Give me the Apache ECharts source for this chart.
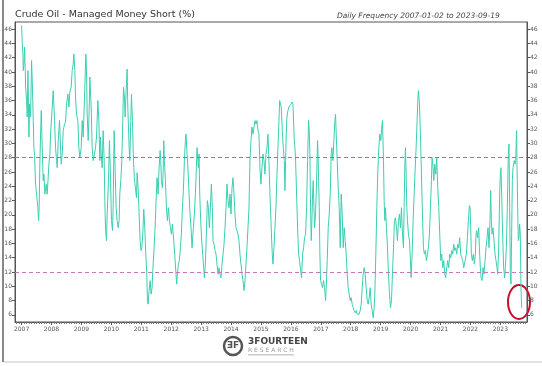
<!DOCTYPE html>
<html><head><meta charset="utf-8">
<script src="https://cdn.jsdelivr.net/npm/echarts@6/dist/echarts.min.js"></script>
<style>html,body{margin:0;padding:0;background:#fff;}#c{width:542px;height:366px;}</style>
</head><body><div id="c"></div>
<script>
// ---- data (decimal year, managed money short %) ----
const short2007_2009 = [[2007.000,46.5],[2007.023,44.0],[2007.045,42.5],[2007.056,40.2],[2007.078,41.0],[2007.100,43.5],[2007.123,40.2],[2007.134,37.9],[2007.167,36.0],[2007.189,33.7],[2007.212,40.2],[2007.245,30.9],[2007.267,35.5],[2007.301,33.7],[2007.334,41.6],[2007.356,38.8],[2007.390,33.2],[2007.412,29.4],[2007.434,28.3],[2007.467,24.3],[2007.501,22.9],[2007.545,21.0],[2007.568,19.2],[2007.590,21.5],[2007.612,27.6],[2007.657,34.6],[2007.690,29.4],[2007.723,24.8],[2007.746,25.7],[2007.779,22.9],[2007.824,24.3],[2007.857,22.9],[2007.913,27.1],[2007.946,28.5],[2007.968,31.3],
[2008.024,35.1],[2008.057,37.4],[2008.102,33.2],[2008.135,29.4],[2008.168,27.6],[2008.191,26.6],[2008.224,30.4],[2008.269,33.2],[2008.302,29.4],[2008.324,27.1],[2008.358,28.5],[2008.391,31.8],[2008.435,32.7],[2008.469,33.0],[2008.502,35.5],[2008.547,36.9],[2008.580,35.1],[2008.613,37.2],[2008.658,37.9],[2008.691,40.2],[2008.725,41.1],[2008.747,42.5],[2008.780,40.2],[2008.803,36.5],[2008.836,34.1],[2008.881,33.2],[2008.914,29.4],[2008.947,28.0],[2008.992,29.4],
[2009.025,33.2],[2009.059,30.9],[2009.103,36.5],[2009.148,42.5],[2009.170,40.2],[2009.192,34.1],[2009.226,30.4],[2009.259,34.6],[2009.281,39.3],[2009.326,35.1],[2009.359,29.4],[2009.393,27.6],[2009.437,28.5],[2009.470,29.4],[2009.504,30.9],[2009.548,36.0],[2009.582,33.2],[2009.615,27.6],[2009.637,30.9],[2009.660,28.5],[2009.693,26.6],[2009.726,31.8],[2009.760,27.6],[2009.782,22.0]];

const short2010_2012 = [[2009.804,18.2],[2009.837,16.4],[2009.860,20.1],[2009.904,24.8],[2009.937,30.4],[2009.971,25.2],[2010.004,19.2],[2010.038,17.8],[2010.060,21.0],[2010.093,31.8],[2010.127,26.2],[2010.160,21.0],[2010.193,19.2],[2010.227,18.2],[2010.260,19.2],[2010.282,22.9],[2010.316,24.8],[2010.349,27.6],[2010.382,33.2],[2010.405,37.9],[2010.438,36.5],[2010.460,33.7],[2010.494,37.4],[2010.527,40.4],[2010.549,35.1],[2010.572,32.3],[2010.594,29.4],[2010.616,27.6],[2010.638,31.3],[2010.672,36.9],[2010.705,33.2],[2010.739,27.6],[2010.772,24.8],[2010.805,23.8],[2010.839,22.4],[2010.861,25.9],[2010.894,23.8],[2010.928,20.1],[2010.961,16.4],[2010.994,15.0],
[2011.017,15.4],[2011.050,17.3],[2011.083,20.8],[2011.117,18.2],[2011.150,14.5],[2011.184,11.7],[2011.206,8.0],[2011.228,7.5],[2011.261,9.4],[2011.295,10.8],[2011.328,8.9],[2011.361,9.8],[2011.384,12.2],[2011.417,14.5],[2011.450,17.3],[2011.473,19.2],[2011.495,22.0],[2011.528,25.2],[2011.562,22.9],[2011.595,26.6],[2011.629,29.0],[2011.651,27.6],[2011.673,24.8],[2011.706,23.8],[2011.729,25.7],[2011.751,30.4],[2011.773,27.6],[2011.807,24.8],[2011.840,21.0],[2011.873,19.2],[2011.907,21.0],[2011.940,19.2],[2011.973,18.2],
[2012.007,17.3],[2012.040,18.7],[2012.085,16.4],[2012.118,14.5],[2012.151,12.2],[2012.185,10.3],[2012.207,11.7],[2012.240,13.1],[2012.274,13.6],[2012.307,15.4],[2012.340,17.3],[2012.374,21.0],[2012.407,23.4],[2012.441,27.6],[2012.474,30.4],[2012.496,31.3],[2012.530,28.5],[2012.563,26.2],[2012.597,22.9],[2012.630,20.1],[2012.663,18.2],[2012.697,15.4]];

const short2013_2015 = [[2012.741,18.2],[2012.775,20.1],[2012.808,22.9],[2012.841,26.6],[2012.864,29.4],[2012.886,28.0],[2012.908,26.6],[2012.930,28.5],[2012.953,22.9],[2012.986,19.2],
[2013.019,16.4],[2013.053,14.5],[2013.086,12.6],[2013.108,11.2],[2013.142,13.1],[2013.175,17.3],[2013.208,22.0],[2013.242,21.0],[2013.275,18.2],[2013.309,21.0],[2013.342,24.3],[2013.375,21.0],[2013.398,16.4],[2013.431,15.9],[2013.464,15.0],[2013.498,14.5],[2013.531,13.1],[2013.564,11.7],[2013.598,12.6],[2013.631,11.7],[2013.665,11.2],[2013.698,13.1],[2013.731,14.5],[2013.765,15.9],[2013.798,18.2],[2013.832,21.0],[2013.865,24.3],[2013.898,22.0],[2013.932,21.0],[2013.965,22.9],[2013.998,20.1],
[2014.032,23.8],[2014.065,25.2],[2014.099,22.9],[2014.132,20.1],[2014.165,18.2],[2014.199,17.8],[2014.232,17.3],[2014.265,16.4],[2014.299,14.5],[2014.332,13.1],[2014.366,11.7],[2014.399,10.8],[2014.432,9.4],[2014.466,10.8],[2014.499,13.1],[2014.532,15.4],[2014.566,18.2],[2014.599,21.0],[2014.632,27.6],[2014.666,30.4],[2014.699,32.3],[2014.733,31.3],[2014.766,32.3],[2014.800,33.2],[2014.833,32.7],[2014.866,33.2],[2014.900,31.8],[2014.933,31.3],[2014.966,26.6],
[2015.000,24.3],[2015.033,26.6],[2015.067,28.5],[2015.100,27.6],[2015.133,25.7],[2015.167,28.5],[2015.200,29.4],[2015.233,31.3],[2015.267,27.6],[2015.300,22.9],[2015.334,19.2],[2015.356,16.4],[2015.378,14.5],[2015.400,13.1],[2015.434,15.4],[2015.467,18.2],[2015.500,21.0],[2015.534,25.7],[2015.567,29.4],[2015.601,33.2],[2015.623,36.0],[2015.645,36.2]];

const short2016_2018 = [[2015.678,35.1],[2015.712,31.8],[2015.745,29.4],[2015.779,27.6],[2015.801,23.4],[2015.823,27.6],[2015.845,31.3],[2015.868,33.7],[2015.901,34.6],[2015.934,35.1],[2015.968,35.3],
[2016.001,35.5],[2016.034,35.8],[2016.068,35.5],[2016.090,33.2],[2016.112,30.4],[2016.135,29.4],[2016.157,27.6],[2016.190,22.9],[2016.224,18.2],[2016.257,14.5],[2016.290,13.6],[2016.324,12.2],[2016.357,11.2],[2016.390,14.5],[2016.424,15.4],[2016.457,16.8],[2016.491,17.3],[2016.524,21.0],[2016.557,27.6],[2016.591,33.2],[2016.613,31.8],[2016.635,28.5],[2016.657,21.0],[2016.680,16.4],[2016.702,19.2],[2016.724,22.9],[2016.746,24.8],[2016.769,21.0],[2016.791,18.2],[2016.824,20.1],[2016.858,24.8],[2016.891,30.4],[2016.913,27.6],[2016.947,21.0],[2016.969,14.5],[2016.991,10.8],
[2017.025,10.3],[2017.058,9.8],[2017.091,10.8],[2017.125,9.8],[2017.158,8.0],[2017.180,9.8],[2017.214,13.6],[2017.247,18.2],[2017.281,20.1],[2017.314,22.9],[2017.347,28.5],[2017.370,29.4],[2017.403,27.6],[2017.436,30.4],[2017.470,33.2],[2017.492,34.1],[2017.514,31.3],[2017.548,27.6],[2017.581,23.8],[2017.614,21.0],[2017.648,15.4],[2017.681,22.9],[2017.714,20.1],[2017.748,15.4],[2017.781,18.2],[2017.814,16.4],[2017.848,14.5],[2017.881,11.7],[2017.915,9.8],[2017.948,8.9],[2017.981,8.0],
[2018.015,8.4],[2018.048,7.5],[2018.082,7.0],[2018.115,6.6],[2018.148,6.3],[2018.182,6.6],[2018.215,6.1],[2018.248,5.9],[2018.282,6.1],[2018.315,6.6],[2018.349,7.5],[2018.382,9.8],[2018.415,11.7],[2018.449,12.6],[2018.482,11.7],[2018.515,9.8],[2018.549,8.0],[2018.582,7.5],[2018.616,8.4],[2018.649,9.8],[2018.682,7.5],[2018.716,6.6],[2018.749,5.6],[2018.782,7.0]];

const short2019_2021 = [[2018.805,8.9],[2018.838,14.5],[2018.872,21.0],[2018.905,26.2],[2018.938,29.4],[2018.972,31.3],
[2019.005,30.4],[2019.038,32.3],[2019.061,33.2],[2019.094,27.6],[2019.116,22.0],[2019.139,19.2],[2019.161,21.0],[2019.194,18.2],[2019.228,15.4],[2019.261,11.7],[2019.294,8.9],[2019.328,7.0],[2019.361,8.0],[2019.394,11.7],[2019.428,15.4],[2019.461,19.2],[2019.495,19.6],[2019.528,18.2],[2019.561,16.4],[2019.595,19.2],[2019.628,20.1],[2019.661,18.2],[2019.695,21.0],[2019.728,17.3],[2019.762,15.4],[2019.784,21.0],[2019.806,26.6],[2019.828,29.4],[2019.851,25.7],[2019.873,21.0],[2019.895,19.2],[2019.928,17.3],[2019.962,16.4],[2019.995,13.6],
[2020.018,11.2],[2020.051,14.5],[2020.084,19.2],[2020.118,22.9],[2020.151,26.2],[2020.184,29.4],[2020.218,33.2],[2020.240,36.0],[2020.262,37.4],[2020.296,35.5],[2020.329,31.3],[2020.362,25.7],[2020.396,20.1],[2020.429,15.4],[2020.462,14.5],[2020.496,15.0],[2020.529,13.6],[2020.563,14.5],[2020.596,15.4],[2020.629,17.3],[2020.663,21.0],[2020.696,24.8],[2020.718,28.0],[2020.752,26.6],[2020.774,24.8],[2020.807,27.1],[2020.841,25.7],[2020.874,28.0],[2020.907,23.8],[2020.941,21.0],[2020.974,17.3],
[2021.008,13.6],[2021.041,14.5],[2021.074,12.6],[2021.108,13.6],[2021.141,11.7],[2021.175,11.2],[2021.208,12.6],[2021.241,13.6],[2021.275,12.6],[2021.308,14.5],[2021.341,14.0],[2021.375,15.0],[2021.408,14.5],[2021.442,15.9],[2021.475,15.0],[2021.508,15.4],[2021.542,14.5],[2021.575,15.9],[2021.609,15.4],[2021.642,16.8],[2021.675,14.5],[2021.709,14.0],[2021.742,13.6],[2021.775,12.6]];

const short2022_2023 = [[2021.831,12.6],[2021.864,14.5],[2021.898,16.8],[2021.931,19.2],[2021.964,21.3],[2021.987,21.0],
[2022.009,18.2],[2022.031,14.5],[2022.064,13.6],[2022.098,14.5],[2022.131,13.1],[2022.165,14.5],[2022.187,17.3],[2022.209,17.8],[2022.242,16.8],[2022.276,18.2],[2022.298,15.4],[2022.331,12.6],[2022.354,11.2],[2022.387,10.8],[2022.420,12.6],[2022.454,11.7],[2022.487,13.6],[2022.521,15.4],[2022.554,16.8],[2022.587,18.2],[2022.621,15.4],[2022.654,19.2],[2022.676,23.4],[2022.699,19.2],[2022.721,17.3],[2022.754,18.2],[2022.788,16.4],[2022.821,14.5],[2022.854,13.6],[2022.888,12.6],[2022.910,11.7],[2022.943,15.4],[2022.977,22.9],[2022.999,25.7],
[2023.021,26.6],[2023.044,22.9],[2023.066,19.2],[2023.088,15.4],[2023.110,12.6],[2023.144,11.2],[2023.166,12.6],[2023.199,15.4],[2023.233,21.0],[2023.266,28.5],[2023.288,29.9],[2023.311,21.0],[2023.333,11.7],[2023.355,10.3],[2023.377,17.3],[2023.400,24.8],[2023.422,26.6],[2023.444,27.1],[2023.466,27.6],[2023.489,27.1],[2023.511,27.6],[2023.533,30.6],[2023.544,31.8],[2023.555,27.6],[2023.578,21.0],[2023.600,16.4],[2023.622,16.8],[2023.644,18.7],[2023.666,17.3],[2023.688,9.8],[2023.711,7.0]];

const yearTicks = [2007,2008,2009,2010,2011,2012,2013,2014,2015,2016,2017,2018,2019,2020,2021,2022,2023];
const yTicks = [6,8,10,12,14,16,18,20,22,24,26,28,30,32,34,36,38,40,42,44,46];
const refLevels = [28, 12];
const titleText = 'Crude Oil - Managed Money Short (%)';
const subtitleText = 'Daily Frequency 2007-01-02 to 2023-09-19';

const seriesData = [].concat(short2007_2009, short2010_2012, short2013_2015, short2016_2018, short2019_2021, short2022_2023);

const X_MIN = 2006.78, X_MAX = 2023.89;
const monthTicks = [];
for (let y = 2006; y <= 2023; y++) {
  for (let m = 1; m < 12; m++) {
    const v = y + m / 12;
    if (v > X_MIN && v < X_MAX) monthTicks.push(v);
  }
}

const FONT = 'DejaVu Sans';
const AX = '#555';
const chart = echarts.init(document.getElementById('c'), null, {renderer: 'canvas'});

const yAxisBase = (pos) => ({
  type: 'value', min: 5, max: 47, position: pos,
  axisLine: {show: true, lineStyle: {color: AX, width: 1}},
  axisTick: {show: true, customValues: yTicks, length: 3, lineStyle: {color: AX}},
  axisLabel: {customValues: yTicks, fontSize: 6, color: '#555', margin: 3, fontFamily: FONT},
  splitLine: {show: false}
});

chart.setOption({
  animation: false,
  backgroundColor: '#fff',
  title: [
    {text: titleText, left: 10, top: 5, textStyle: {fontFamily: FONT, fontSize: 9.5, fontWeight: 'normal', color: '#333'}},
    {text: subtitleText, left: 332, top: 7, textStyle: {fontFamily: FONT, fontSize: 7.5, fontStyle: 'italic', fontWeight: 'normal', color: '#444'}}
  ],
  grid: {left: 15, right: 15, top: 22, bottom: 44, show: true, borderColor: AX, borderWidth: 1},
  xAxis: [
    {type: 'value', min: X_MIN, max: X_MAX, position: 'bottom',
     axisLine: {show: true, onZero: false, lineStyle: {color: AX}},
     axisTick: {show: true, customValues: yearTicks, length: 3, lineStyle: {color: AX}},
     axisLabel: {customValues: yearTicks, fontSize: 6, color: '#555', margin: 4, fontFamily: FONT, formatter: v => String(v)},
     splitLine: {show: false}},
    {type: 'value', min: X_MIN, max: X_MAX, position: 'bottom',
     axisLine: {show: false, onZero: false},
     axisTick: {show: true, customValues: monthTicks, length: 2, lineStyle: {color: '#777'}},
     axisLabel: {show: false},
     splitLine: {show: false}}
  ],
  yAxis: [yAxisBase('left'), yAxisBase('right')],
  series: [{
    type: 'line', data: seriesData, xAxisIndex: 0, yAxisIndex: 0,
    symbol: 'none', showSymbol: false,
    lineStyle: {color: '#3ad0b2', width: 1},
    markLine: {
      silent: true, symbol: 'none', label: {show: false},
      data: [
        {yAxis: refLevels[0], lineStyle: {color: '#8d7f98', type: [4, 3], width: 1}},
        {yAxis: refLevels[1], lineStyle: {color: '#c477c0', type: [4, 3], width: 1}}
      ]
    }
  }],
  graphic: [
    {type: 'line', shape: {x1: 3, y1: 0, x2: 3, y2: 362}, style: {stroke: '#888', lineWidth: 2}},
    {type: 'line', shape: {x1: 4, y1: 362, x2: 542, y2: 362}, style: {stroke: '#e2e2e2', lineWidth: 2}},
    {type: 'ellipse', shape: {cx: 519, cy: 302, rx: 11, ry: 17}, style: {fill: 'none', stroke: '#c8102e', lineWidth: 2}},
    {type: 'circle', shape: {cx: 233, cy: 346, r: 9}, style: {fill: 'none', stroke: '#555', lineWidth: 2.5}},
    {type: 'text', x: 233, y: 346, style: {text: 'ƎF', font: 'bold 9px DejaVu Sans', fill: '#555', align: 'center', verticalAlign: 'middle'}},
    {type: 'text', x: 248, y: 337, style: {text: '3FOURTEEN', font: 'bold 9px DejaVu Sans', fill: '#444'}},
    {type: 'text', x: 248, y: 347, style: {text: 'R E S E A R C H', font: '6px DejaVu Sans', fill: '#999'}},
    {type: 'rect', shape: {x: 248, y: 354, width: 46, height: 1.5}, style: {fill: '#ccc'}}
  ]
});
</script></body></html>
